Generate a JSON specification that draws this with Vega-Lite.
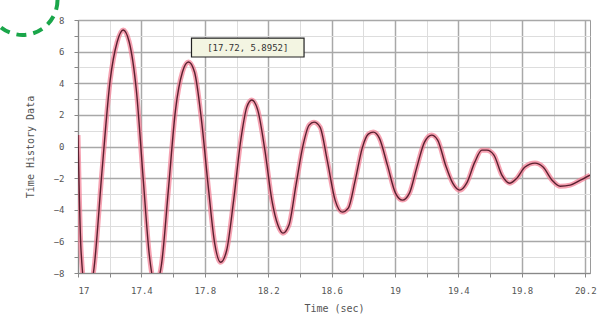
{
  "$schema": "https://vega.github.io/schema/vega-lite/v6.json",
  "width": 512,
  "height": 253,
  "autosize": "none",
  "padding": {"left": 78, "top": 20, "right": 26, "bottom": 49},
  "background": "white",
  "config": {
    "view": {"stroke": "#9a9a9a", "strokeWidth": 1},
    "font": "DejaVu Sans Mono"
  },
  "datasets": {
    "series": [
      {"t": 17.0, "v": 0.72}, {"t": 17.019, "v": -6.56}, {"t": 17.057, "v": -9.72}, {"t": 17.101, "v": -7.7},
      {"t": 17.152, "v": -1.49}, {"t": 17.203, "v": 4.2}, {"t": 17.247, "v": 6.61}, {"t": 17.285, "v": 7.37},
      {"t": 17.323, "v": 6.61}, {"t": 17.368, "v": 3.57}, {"t": 17.412, "v": -2.13}, {"t": 17.45, "v": -6.87},
      {"t": 17.488, "v": -8.77}, {"t": 17.526, "v": -7.51}, {"t": 17.57, "v": -2.76}, {"t": 17.615, "v": 2.3},
      {"t": 17.659, "v": 4.71}, {"t": 17.697, "v": 5.34}, {"t": 17.735, "v": 4.71}, {"t": 17.779, "v": 1.67},
      {"t": 17.824, "v": -2.76}, {"t": 17.862, "v": -6.11}, {"t": 17.9, "v": -7.32}, {"t": 17.938, "v": -6.56},
      {"t": 17.982, "v": -3.39}, {"t": 18.027, "v": 0.41}, {"t": 18.065, "v": 2.49}, {"t": 18.096, "v": 2.94},
      {"t": 18.134, "v": 2.3}, {"t": 18.179, "v": -0.23}, {"t": 18.223, "v": -3.39}, {"t": 18.261, "v": -4.97},
      {"t": 18.293, "v": -5.48}, {"t": 18.331, "v": -4.97}, {"t": 18.375, "v": -2.44}, {"t": 18.42, "v": 0.09},
      {"t": 18.458, "v": 1.35}, {"t": 18.489, "v": 1.54}, {"t": 18.527, "v": 1.23}, {"t": 18.572, "v": -0.86},
      {"t": 18.622, "v": -3.39}, {"t": 18.667, "v": -4.15}, {"t": 18.705, "v": -3.9}, {"t": 18.749, "v": -2.13},
      {"t": 18.793, "v": -0.1}, {"t": 18.831, "v": 0.78}, {"t": 18.863, "v": 0.91}, {"t": 18.901, "v": 0.53},
      {"t": 18.952, "v": -1.18}, {"t": 19.003, "v": -2.95}, {"t": 19.047, "v": -3.39}, {"t": 19.091, "v": -2.95},
      {"t": 19.136, "v": -1.37}, {"t": 19.186, "v": 0.28}, {"t": 19.231, "v": 0.72}, {"t": 19.269, "v": 0.41},
      {"t": 19.319, "v": -1.18}, {"t": 19.364, "v": -2.32}, {"t": 19.408, "v": -2.76}, {"t": 19.452, "v": -2.32},
      {"t": 19.503, "v": -0.99}, {"t": 19.548, "v": -0.23}, {"t": 19.579, "v": -0.23}, {"t": 19.624, "v": -0.54},
      {"t": 19.674, "v": -1.81}, {"t": 19.725, "v": -2.32}, {"t": 19.769, "v": -2.0}, {"t": 19.82, "v": -1.3},
      {"t": 19.883, "v": -1.05}, {"t": 19.934, "v": -1.3}, {"t": 19.991, "v": -2.13}, {"t": 20.042, "v": -2.51},
      {"t": 20.105, "v": -2.44}, {"t": 20.169, "v": -2.13}, {"t": 20.23, "v": -1.81}
    ],
    "box": [{"t": 17.716, "t2": 18.426, "v": 6.86, "v2": 5.66}],
    "label": [{"t": 18.071, "v": 6.26, "label": "[17.72, 5.8952]"}],
    "mark": [{"t": 16.65, "v": 9.27}]
  },
  "encoding": {
    "x": {
      "field": "t", "type": "quantitative",
      "scale": {"domain": [17, 20.23], "nice": false, "zero": false},
      "axis": {
        "title": "Time (sec)",
        "titleFont": "DejaVu Sans Mono", "titleFontSize": 10, "titleFontWeight": "normal", "titleColor": "#555",
        "titlePadding": 8,
        "values": [17, 17.2, 17.4, 17.6, 17.8, 18, 18.2, 18.4, 18.6, 18.8, 19, 19.2, 19.4, 19.6, 19.8, 20, 20.2],
        "labelExpr": "abs((datum.value-17)*2.5 - round((datum.value-17)*2.5)) < 0.01 ? format(datum.value, '.1~f') : ''",
        "labelOverlap": false,
        "labelFontSize": 9, "labelColor": "#555", "labelPadding": 9,
        "grid": true,
        "gridColor": {"condition": {"test": "abs((datum.value-17)*2.5 - round((datum.value-17)*2.5)) < 0.01", "value": "#a8a8a8"}, "value": "#dddddd"},
        "gridWidth": {"condition": {"test": "abs((datum.value-17)*2.5 - round((datum.value-17)*2.5)) < 0.01", "value": 1.5}, "value": 1},
        "tickColor": "#888", "tickSize": 4, "domainColor": "#888"
      }
    },
    "y": {
      "field": "v", "type": "quantitative",
      "scale": {"domain": [-8, 8], "nice": false, "zero": false},
      "axis": {
        "title": "Time History Data",
        "titleFont": "DejaVu Sans Mono", "titleFontSize": 10, "titleFontWeight": "normal", "titleColor": "#555",
        "titlePadding": 18,
        "values": [-8, -7, -6, -5, -4, -3, -2, -1, 0, 1, 2, 3, 4, 5, 6, 7, 8],
        "labelExpr": "abs(datum.value/2 - round(datum.value/2)) < 0.01 ? datum.label : ''",
        "labelOverlap": false,
        "labelFontSize": 9, "labelColor": "#555", "labelPadding": 10,
        "grid": true,
        "gridColor": {"condition": {"test": "abs(datum.value/2 - round(datum.value/2)) < 0.01", "value": "#a8a8a8"}, "value": "#dddddd"},
        "gridWidth": {"condition": {"test": "abs(datum.value/2 - round(datum.value/2)) < 0.01", "value": 1.5}, "value": 1},
        "tickColor": "#888", "tickSize": 4, "domainColor": "#888"
      }
    }
  },
  "layer": [
    {
      "data": {"name": "series"},
      "mark": {"type": "line", "clip": true, "color": "#f27a92", "strokeWidth": 5, "opacity": 0.7, "interpolate": "monotone"}
    },
    {
      "data": {"name": "series"},
      "mark": {"type": "line", "clip": true, "color": "#5a2030", "strokeWidth": 1.4, "interpolate": "monotone"}
    },
    {
      "data": {"name": "box"},
      "mark": {"type": "rect", "fill": "#f3f5e2", "stroke": "#222", "strokeWidth": 1.2},
      "encoding": {
        "x2": {"field": "t2"},
        "y2": {"field": "v2"}
      }
    },
    {
      "data": {"name": "label"},
      "mark": {"type": "text", "fontSize": 9, "color": "#333", "font": "DejaVu Sans Mono"},
      "encoding": {
        "text": {"field": "label"}
      }
    },
    {
      "data": {"name": "mark"},
      "mark": {"type": "point", "shape": "circle", "filled": false, "size": 4900, "stroke": "#1aa64a", "strokeWidth": 4, "strokeDash": [10, 7], "opacity": 1}
    }
  ]
}
